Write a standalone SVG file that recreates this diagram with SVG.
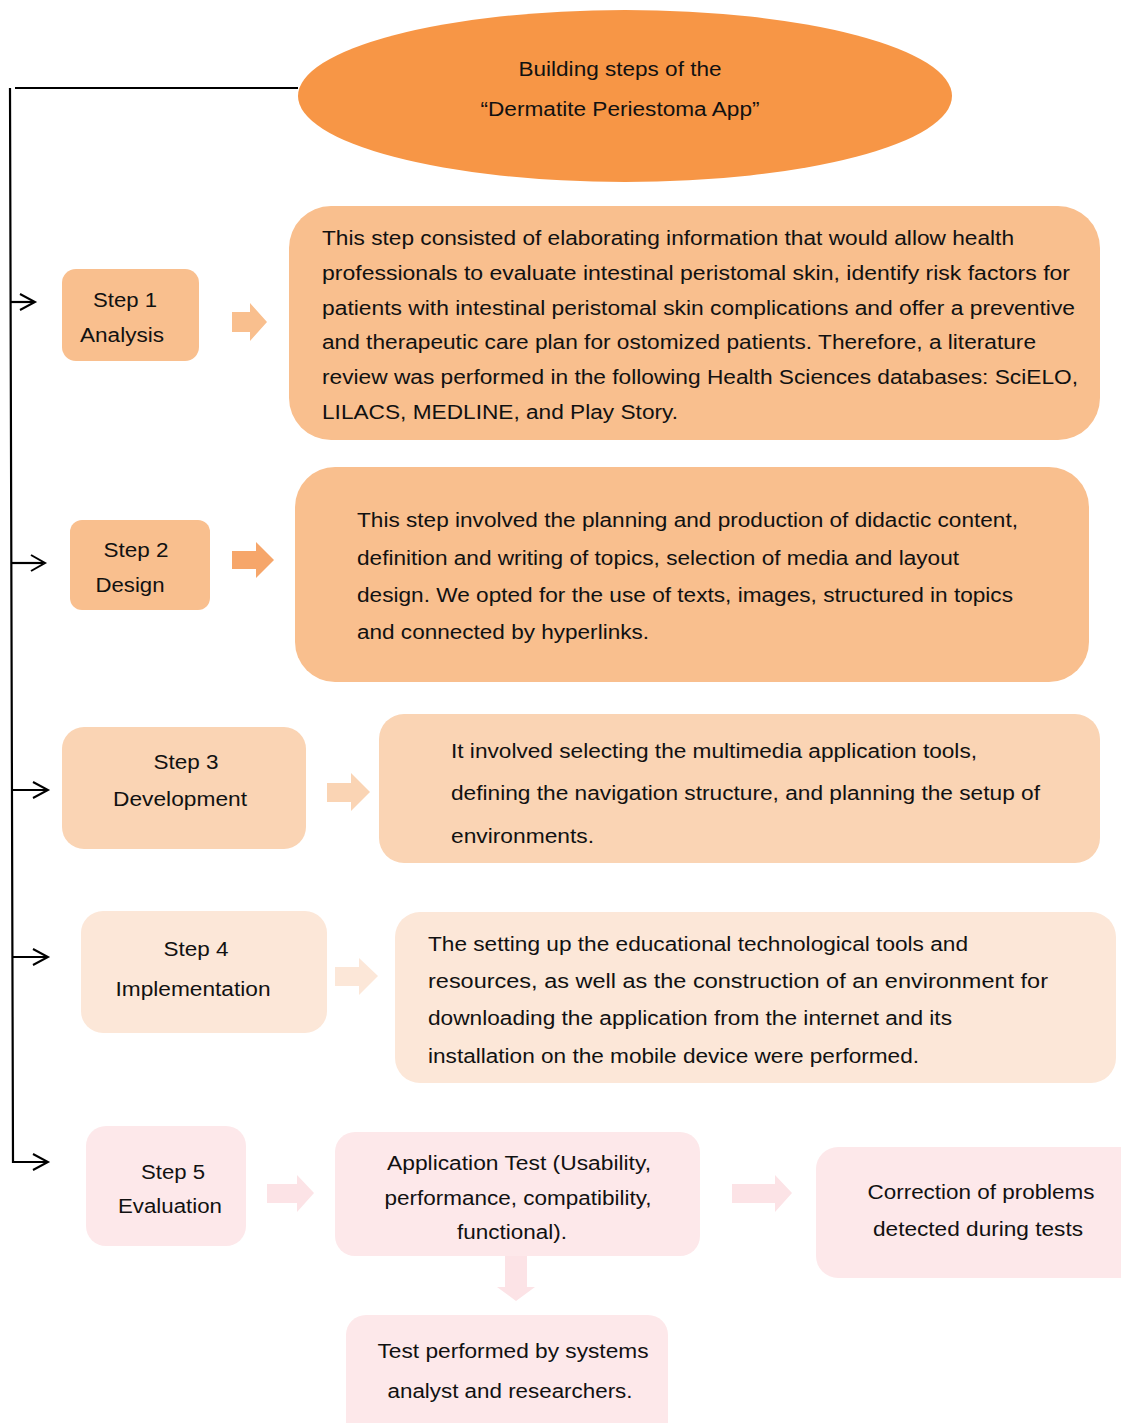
<svg xmlns="http://www.w3.org/2000/svg" width="1121" height="1423" viewBox="0 0 1121 1423">
<style>
text{font-family:"Liberation Sans",Arial,sans-serif;font-size:20px;fill:#111}
.c{text-anchor:middle}
.ln{fill:none;stroke:#000;stroke-width:2.2}
.hd{fill:none;stroke:#000;stroke-width:2;stroke-linejoin:miter}
.o1{fill:#F9BF8E}
.o2{fill:#F6A66A}
.o3{fill:#FAD4B4}
.o4{fill:#FCE7D8}
.p5{fill:#FDE8EA}
.pa{fill:#FCE3E6}
</style>
<rect width="1121" height="1423" fill="#fff"/>

<g id="connectors">
  <path class="ln" d="M15,88 H298"/>
  <path class="ln" d="M10,88 L13,1162 H46"/>
  <path class="ln" d="M10,302 H33"/>
  <path class="ln" d="M11,563 H43"/>
  <path class="ln" d="M12,790 H46"/>
  <path class="ln" d="M12,957 H46"/>
  <path class="hd" d="M20,294 L35,302 L20,310"/>
  <path class="hd" d="M31,555 L45,563 L31,571"/>
  <path class="hd" d="M33,782 L48,790 L33,798"/>
  <path class="hd" d="M33,949 L48,957 L33,965"/>
  <path class="hd" d="M33,1154 L48,1162 L33,1170"/>
  <path class="o1" d="M232,312 H250 V303 L267,322 L250,341 V332 H232 Z"/>
  <path class="o2" d="M232,551 H256 V542 L274,560 L256,578 V569 H232 Z"/>
  <path class="o3" d="M327,783 H351 V773 L370,792 L351,811 V802 H327 Z"/>
  <path class="o4" d="M335,967 H359 V958 L378,976 L359,995 V986 H335 Z"/>
  <path class="pa" d="M267,1184 H297 V1175 L314,1193 L297,1212 V1203 H267 Z"/>
  <path class="pa" d="M732,1184 H775 V1175 L792,1193 L775,1212 V1203 H732 Z"/>
  <path class="pa" d="M505,1256 H527 V1287 H535 L516,1301 L497,1287 H505 Z"/>
</g>

<g id="title">
  <ellipse cx="625" cy="96" rx="327" ry="86" fill="#F79646"/>
  <text x="620" y="76" class="c" textLength="203" lengthAdjust="spacingAndGlyphs">Building steps of the</text>
  <text x="620" y="116" class="c" textLength="279" lengthAdjust="spacingAndGlyphs">“Dermatite Periestoma App”</text>
</g>

<g id="step1">
  <rect class="o1" x="62" y="269" width="137" height="92" rx="14"/>
  <text x="125" y="307" class="c" textLength="64" lengthAdjust="spacingAndGlyphs">Step 1</text>
  <text x="122" y="342" class="c" textLength="84" lengthAdjust="spacingAndGlyphs">Analysis</text>
</g>
<g id="desc1">
  <rect class="o1" x="289" y="206" width="811" height="234" rx="42"/>
  <text x="322" y="245" textLength="692" lengthAdjust="spacingAndGlyphs">This step consisted of elaborating information that would allow health</text>
  <text x="322" y="280" textLength="748" lengthAdjust="spacingAndGlyphs">professionals to evaluate intestinal peristomal skin, identify risk factors for</text>
  <text x="322" y="315" textLength="753" lengthAdjust="spacingAndGlyphs">patients with intestinal peristomal skin complications and offer a preventive</text>
  <text x="322" y="349" textLength="714" lengthAdjust="spacingAndGlyphs">and therapeutic care plan for ostomized patients. Therefore, a literature</text>
  <text x="322" y="384" textLength="756" lengthAdjust="spacingAndGlyphs">review was performed in the following Health Sciences databases: SciELO,</text>
  <text x="322" y="419" textLength="356" lengthAdjust="spacingAndGlyphs">LILACS, MEDLINE, and Play Story.</text>
</g>

<g id="step2">
  <rect class="o1" x="70" y="520" width="140" height="90" rx="12"/>
  <text x="136" y="557" class="c" textLength="65" lengthAdjust="spacingAndGlyphs">Step 2</text>
  <text x="130" y="592" class="c" textLength="69" lengthAdjust="spacingAndGlyphs">Design</text>
</g>
<g id="desc2">
  <rect class="o1" x="295" y="467" width="794" height="215" rx="40"/>
  <text x="357" y="527" textLength="661" lengthAdjust="spacingAndGlyphs">This step involved the planning and production of didactic content,</text>
  <text x="357" y="565" textLength="602" lengthAdjust="spacingAndGlyphs">definition and writing of topics, selection of media and layout</text>
  <text x="357" y="602" textLength="656" lengthAdjust="spacingAndGlyphs">design. We opted for the use of texts, images, structured in topics</text>
  <text x="357" y="639" textLength="292" lengthAdjust="spacingAndGlyphs">and connected by hyperlinks.</text>
</g>

<g id="step3">
  <rect class="o3" x="62" y="727" width="244" height="122" rx="22"/>
  <text x="186" y="769" class="c" textLength="65" lengthAdjust="spacingAndGlyphs">Step 3</text>
  <text x="180" y="806" class="c" textLength="134" lengthAdjust="spacingAndGlyphs">Development</text>
</g>
<g id="desc3">
  <rect class="o3" x="379" y="714" width="721" height="149" rx="25"/>
  <text x="451" y="758" textLength="526" lengthAdjust="spacingAndGlyphs">It involved selecting the multimedia application tools,</text>
  <text x="451" y="800" textLength="589" lengthAdjust="spacingAndGlyphs">defining the navigation structure, and planning the setup of</text>
  <text x="451" y="843" textLength="143" lengthAdjust="spacingAndGlyphs">environments.</text>
</g>

<g id="step4">
  <rect class="o4" x="81" y="911" width="246" height="122" rx="22"/>
  <text x="196" y="956" class="c" textLength="65" lengthAdjust="spacingAndGlyphs">Step 4</text>
  <text x="193" y="996" class="c" textLength="155" lengthAdjust="spacingAndGlyphs">Implementation</text>
</g>
<g id="desc4">
  <rect class="o4" x="395" y="912" width="721" height="171" rx="25"/>
  <text x="428" y="951" textLength="540" lengthAdjust="spacingAndGlyphs">The setting up the educational technological tools and</text>
  <text x="428" y="988" textLength="620" lengthAdjust="spacingAndGlyphs">resources, as well as the construction of an environment for</text>
  <text x="428" y="1025" textLength="524" lengthAdjust="spacingAndGlyphs">downloading the application from the internet and its</text>
  <text x="428" y="1063" textLength="491" lengthAdjust="spacingAndGlyphs">installation on the mobile device were performed.</text>
</g>

<g id="step5">
  <rect class="p5" x="86" y="1126" width="160" height="120" rx="20"/>
  <text x="173" y="1179" class="c" textLength="64" lengthAdjust="spacingAndGlyphs">Step 5</text>
  <text x="170" y="1213" class="c" textLength="104" lengthAdjust="spacingAndGlyphs">Evaluation</text>
</g>
<g id="apptest">
  <rect class="p5" x="335" y="1132" width="365" height="124" rx="20"/>
  <text x="519" y="1170" class="c" textLength="264" lengthAdjust="spacingAndGlyphs">Application Test (Usability,</text>
  <text x="518" y="1205" class="c" textLength="267" lengthAdjust="spacingAndGlyphs">performance, compatibility,</text>
  <text x="512" y="1239" class="c" textLength="110" lengthAdjust="spacingAndGlyphs">functional).</text>
</g>
<g id="correction">
  <rect class="p5" x="816" y="1147" width="330" height="131" rx="22"/>
  <text x="981" y="1199" class="c" textLength="227" lengthAdjust="spacingAndGlyphs">Correction of problems</text>
  <text x="978" y="1236" class="c" textLength="210" lengthAdjust="spacingAndGlyphs">detected during tests</text>
</g>
<g id="testby">
  <rect class="p5" x="346" y="1315" width="322" height="130" rx="20"/>
  <text x="513" y="1358" class="c" textLength="271" lengthAdjust="spacingAndGlyphs">Test performed by systems</text>
  <text x="510" y="1398" class="c" textLength="245" lengthAdjust="spacingAndGlyphs">analyst and researchers.</text>
</g>
</svg>
